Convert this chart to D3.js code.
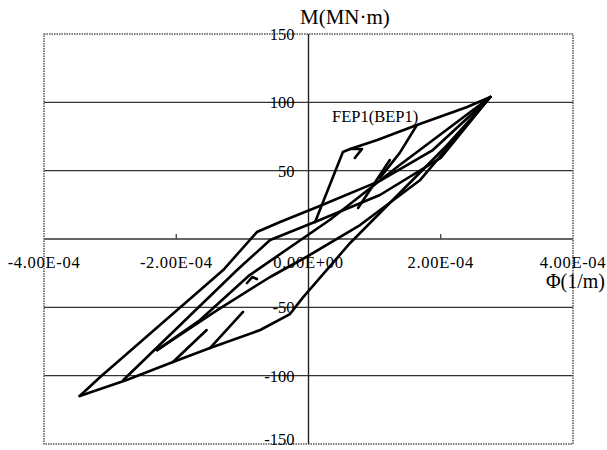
<!DOCTYPE html>
<html><head><meta charset="utf-8">
<script src="https://cdn.jsdelivr.net/npm/d3@7"></script>
<style>
  body { margin: 0; background: #fff; }
</style>
</head><body>
<svg id="chart" width="607" height="450"></svg>
<script>
// Axis ticks
const xTicks = [-4e-4, -2e-4, 0, 2e-4, 4e-4];
const xTickLabels = ["-4.00E-04", "-2.00E-04", "0.00E+00", "2.00E-04", "4.00E-04"];
const yTicks = [150, 100, 50, -50, -100, -150];
const yTickLabels = ["150", "100", "50", "-50", "-100", "-150"];
const gridValues = [100, 50, 0, -50, -100];

// Moment–curvature branches: [curvature Φ (1/m), moment M (MN·m)]
const outerReload = [[-3.46e-4, -114.9], [-3.15e-4, -101.0], [-1.29e-4, -22.7], [-0.78e-4, 5.1],
  [-0.43e-4, 12.4], [0.17e-4, 24.2], [1.08e-4, 42.5], [1.88e-4, 65.1], [2.75e-4, 103.9]];
const outerUnload = [[2.75e-4, 103.9], [2.10e-4, 68.8], [0.63e-4, -2.9], [-0.08e-4, -42.5],
  [-0.28e-4, -54.9], [-0.73e-4, -66.6], [-1.49e-4, -79.8], [-2.05e-4, -90.0],
  [-2.75e-4, -103.2], [-3.46e-4, -114.9]];
const reloadSecond = [[-2.80e-4, -103.2], [-1.08e-4, -22.7], [-0.58e-4, -0.7],
  [0.17e-4, 13.9], [1.08e-4, 32.2], [2.00e-4, 59.3], [2.75e-4, 103.9]];
const reloadThick = [[-2.29e-4, -81.3], [-1.38e-4, -52.0], [-0.58e-4, -27.8],
  [0.02e-4, -11.7], [0.78e-4, 10.2], [1.69e-4, 43.2], [2.75e-4, 103.9]];
const unloadInner = [[2.75e-4, 103.9], [1.38e-4, 54.2], [0.32e-4, 13.9],
  [-0.89e-4, -26.4], [-1.64e-4, -59.3], [-2.29e-4, -81.3]];
const skeletonUpper = [[0.10e-4, 12.4], [0.52e-4, 63.7], [0.63e-4, 65.9], [1.04e-4, 72.5],
  [1.64e-4, 83.4], [2.40e-4, 96.6], [2.75e-4, 103.9]];
const hookUpper = [[0.63e-4, 65.9], [0.81e-4, 65.9], [0.70e-4, 59.3]];
const unloadMid = [[1.64e-4, 83.4], [1.38e-4, 63.0], [1.08e-4, 44.7]];
const reloadShortUpper = [[0.75e-4, 22.7], [1.23e-4, 57.8]];
const reloadB = [[-2.05e-4, -90.0], [-1.54e-4, -66.6]];
const reloadC = [[-1.49e-4, -79.8], [-0.99e-4, -53.4]];
const hookLower = [[-0.93e-4, -32.2], [-0.85e-4, -27.8], [-0.78e-4, -29.3]];
const branches = [outerReload, outerUnload, reloadSecond, reloadThick, unloadInner,
  skeletonUpper, hookUpper, unloadMid, reloadShortUpper, reloadB, reloadC, hookLower];

const FONT = "'Liberation Serif', 'Times New Roman', serif";
const svg = d3.select("#chart");
const x = d3.scaleLinear().domain([-4e-4, 4e-4]).range([44, 573]);
const y = d3.scaleLinear().domain([-150, 150]).range([444, 34]);

// Horizontal grid lines
svg.append("g").selectAll("line").data(gridValues).join("line")
  .attr("x1", x(-4e-4)).attr("x2", x(4e-4))
  .attr("y1", d => y(d)).attr("y2", d => y(d))
  .attr("stroke", "#333").attr("stroke-width", 1.4);

// Dotted plot frame
svg.append("rect")
  .attr("x", x(-4e-4)).attr("y", y(150))
  .attr("width", x(4e-4) - x(-4e-4)).attr("height", y(-150) - y(150))
  .attr("fill", "none").attr("stroke", "#555").attr("stroke-width", 1.5)
  .attr("stroke-dasharray", "1.5,1");

// Vertical axis through Φ = 0
svg.append("line")
  .attr("x1", x(0)).attr("x2", x(0)).attr("y1", y(150)).attr("y2", y(-150))
  .attr("stroke", "#222").attr("stroke-width", 1.4);

// X tick marks on the zero line
svg.append("g").selectAll("line").data(xTicks.filter(d => Math.abs(d) < 3e-4 && d !== 0)).join("line")
  .attr("x1", d => x(d)).attr("x2", d => x(d))
  .attr("y1", y(0)).attr("y2", y(0) - 5)
  .attr("stroke", "#333").attr("stroke-width", 1.2);

// Curves
const line = d3.line().x(d => x(d[0])).y(d => y(d[1]));
svg.append("g").selectAll("path").data(branches).join("path")
  .attr("d", line).attr("fill", "none")
  .attr("stroke", "#000").attr("stroke-width", 2.6)
  .attr("stroke-linejoin", "round").attr("stroke-linecap", "round");

// Tick labels
svg.append("g").selectAll("text").data(xTicks).join("text")
  .attr("x", d => x(d)).attr("y", y(0) + 29)
  .attr("text-anchor", "middle").attr("font-size", 16.5)
  .attr("font-family", FONT).attr("letter-spacing", 0.7)
  .text((d, i) => xTickLabels[i]);

svg.append("g").selectAll("text").data(yTicks).join("text")
  .attr("x", x(0) - 14).attr("y", d => Math.min(y(d) + 6, 445))
  .attr("text-anchor", "end").attr("font-size", 16.5)
  .attr("font-family", FONT)
  .text((d, i) => yTickLabels[i]);

// Axis titles and annotation
svg.append("text").attr("x", 300).attr("y", 24).attr("font-size", 21)
  .attr("font-family", FONT).text("M(MN·m)");
svg.append("text").attr("x", 605).attr("y", 288).attr("text-anchor", "end")
  .attr("font-size", 20).attr("font-family", FONT).text("Φ(1/m)");
svg.append("text").attr("x", 332).attr("y", 122).attr("font-size", 16.5)
  .attr("font-family", FONT).text("FEP1(BEP1)");
</script>
</body></html>
